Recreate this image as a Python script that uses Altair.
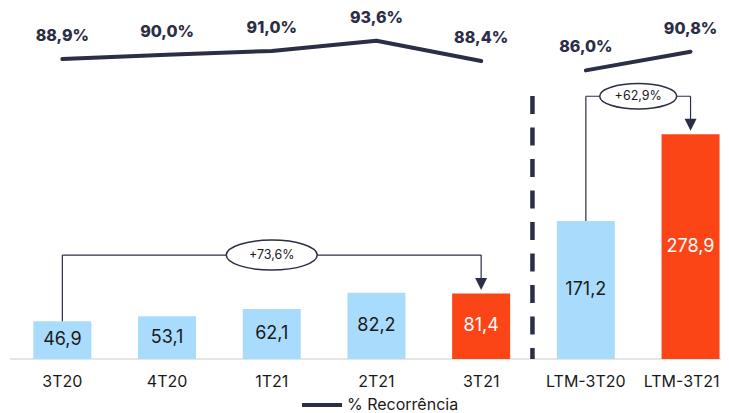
import altair as alt
import pandas as pd

# ---- data ----
categories = ["3T20", "4T20", "1T21", "2T21", "3T21", "LTM-3T20", "LTM-3T21"]
receita = [46.9, 53.1, 62.1, 82.2, 81.4, 171.2, 278.9]
recorrencia = [88.9, 90.0, 91.0, 93.6, 88.4, 86.0, 90.8]
destaque = [False, False, False, False, True, False, True]
segmento = ["tri", "tri", "tri", "tri", "tri", "ltm", "ltm"]

variacoes = ["+73,6%", "+62,9%"]
var_de = [0, 5]      # index of start bar
var_para = [4, 6]    # index of end bar
var_nivel = [129, 326]  # bracket height (bar units)
var_centro = [2.0, 5.5]
var_tamanho = [8281, 5929]

NAVY = "#2b2e45"
BLUE = "#a9dcfc"
RED = "#fc4517"
TXT = "#1a1a1a"
FONT = "Inter"

W, H = 711, 351
STEP = 104.7

def fmt(v, d=1):
    return f"{v:.{d}f}".replace(".", ",")

n = len(categories)
df = pd.DataFrame({
    "i": list(range(n)),
    # label position: last label nudged left so it stays inside the page edge
    "lx": [k if k < n - 1 else k - 0.085 for k in range(n)],
    "cat": categories,
    "v": receita,
    "mid": [v / 2 for v in receita],
    "vlab": [fmt(v) for v in receita],
    "r": recorrencia,
    "rlab": [fmt(r) + "%" for r in recorrencia],
    "destaque": destaque,
    "seg": segmento,
    "serie": ["% Recorrência"] * n,
})

XS = alt.Scale(domain=[-0.5, -0.5 + W / STEP], nice=False, zero=False, padding=0)
YB = alt.Scale(domain=[0, 435.5], nice=False, zero=True, padding=0)
YL = alt.Scale(domain=[12, 102], nice=False, zero=False, padding=0)

def X(f="i"):
    return alt.X(f"{f}:Q", scale=XS, axis=None)

def YBar(f):
    return alt.Y(f"{f}:Q", scale=YB, axis=None)

base = alt.Chart(df)

baseline_df = pd.DataFrame({"x": [-0.5], "x2": [-0.5 + W / STEP], "y": [0]})
baseline = alt.Chart(baseline_df).mark_rule(color="#dddddd", strokeWidth=1.5).encode(
    x=X("x"), x2="x2:Q", y=YBar("y")
)

bars = base.mark_bar(size=58).encode(
    x=X(), y=YBar("v"),
    color=alt.condition("datum.destaque", alt.value(RED), alt.value(BLUE)),
)

bar_text = base.mark_text(font=FONT, fontSize=18, baseline="middle").encode(
    x=X(), y=YBar("mid"), text="vlab:N",
    color=alt.condition("datum.destaque", alt.value("white"), alt.value(TXT)),
)

x_labels = base.mark_text(font=FONT, fontSize=16, baseline="middle", dy=23, color=TXT).encode(
    x=X("lx"), y=alt.Y("zero:Q", scale=YB, axis=None), text="cat:N"
).transform_calculate(zero="0")

line = base.mark_line(strokeWidth=4, strokeCap="round", strokeJoin="round").encode(
    x=X(), y=alt.Y("r:Q", scale=YL, axis=None), detail="seg:N",
    color=alt.Color("serie:N", scale=alt.Scale(domain=["% Recorrência"], range=[NAVY]),
                    legend=alt.Legend(orient="none", legendX=290, legendY=375, title=None,
                                      symbolType="stroke", symbolSize=1600, symbolStrokeWidth=4,
                                      labelFontSize=16, labelFont=FONT, labelColor=TXT,
                                      labelOffset=3, padding=0)),
)

line_text = base.mark_text(font=FONT, fontSize=16, fontWeight=800, dy=-23, color=NAVY,
                           baseline="middle").encode(
    x=X(), y=alt.Y("r:Q", scale=YL, axis=None), text="rlab:N"
)

# dashed separator
sep_df = pd.DataFrame({"x": [4.49], "y": [326.3], "y2": [0]})
sep = alt.Chart(sep_df).mark_rule(color=NAVY, strokeWidth=4.5, strokeDash=[18, 13.5]).encode(
    x=X("x"), y=YBar("y"), y2="y2:Q"
)

# brackets
segs = []
tips = []
for k in range(len(variacoes)):
    a, b, lvl = var_de[k], var_para[k], var_nivel[k]
    tip = receita[b] + 4.2
    segs.append({"x": a, "x2": a, "y": receita[a], "y2": lvl})
    segs.append({"x": a, "x2": b, "y": lvl, "y2": lvl})
    segs.append({"x": b, "x2": b, "y": lvl, "y2": tip + 8})
    tips.append({"x": b, "y": tip})
seg_df = pd.DataFrame(segs)
tip_df = pd.DataFrame(tips)
ell_df = pd.DataFrame({"x": var_centro, "y": var_nivel, "t": variacoes, "s": var_tamanho})

bracket = alt.Chart(seg_df).mark_rule(color=NAVY, strokeWidth=1.2).encode(
    x=X("x"), x2="x2:Q", y=YBar("y"), y2="y2:Q"
)

arrow = alt.Chart(tip_df).mark_point(
    shape="M-1,-2L1,-2L0,0Z", size=144, filled=True, color=NAVY, opacity=1
).encode(x=X("x"), y=YBar("y"))

ELLIPSE = ("M-1,0C-1,-0.182 -0.552,-0.33 0,-0.33C0.552,-0.33 1,-0.182 1,0"
           "C1,0.182 0.552,0.33 0,0.33C-0.552,0.33 -1,0.182 -1,0Z")
ellipse = alt.Chart(ell_df).mark_point(
    shape=ELLIPSE, filled=True, fill="white", stroke=NAVY, strokeWidth=1.5, opacity=1,
    fillOpacity=1, strokeOpacity=1
).encode(x=X("x"), y=YBar("y"), size=alt.Size("s:Q", scale=None, legend=None))

ell_text = alt.Chart(ell_df).mark_text(font=FONT, fontSize=12.5, color=TXT, baseline="middle").encode(
    x=X("x"), y=YBar("y"), text="t:N"
)

chart = alt.layer(
    baseline, bars, bar_text, x_labels, sep, bracket, arrow, ellipse, ell_text, line, line_text
).resolve_scale(y="independent").properties(
    width=W, height=H,
    padding={"left": 2, "top": 0, "right": 0, "bottom": 54},
    autosize=alt.AutoSizeParams(type="none"),
).configure_view(stroke=None)

chart.save("out.html", embed_options={"renderer": "svg", "actions": False})
